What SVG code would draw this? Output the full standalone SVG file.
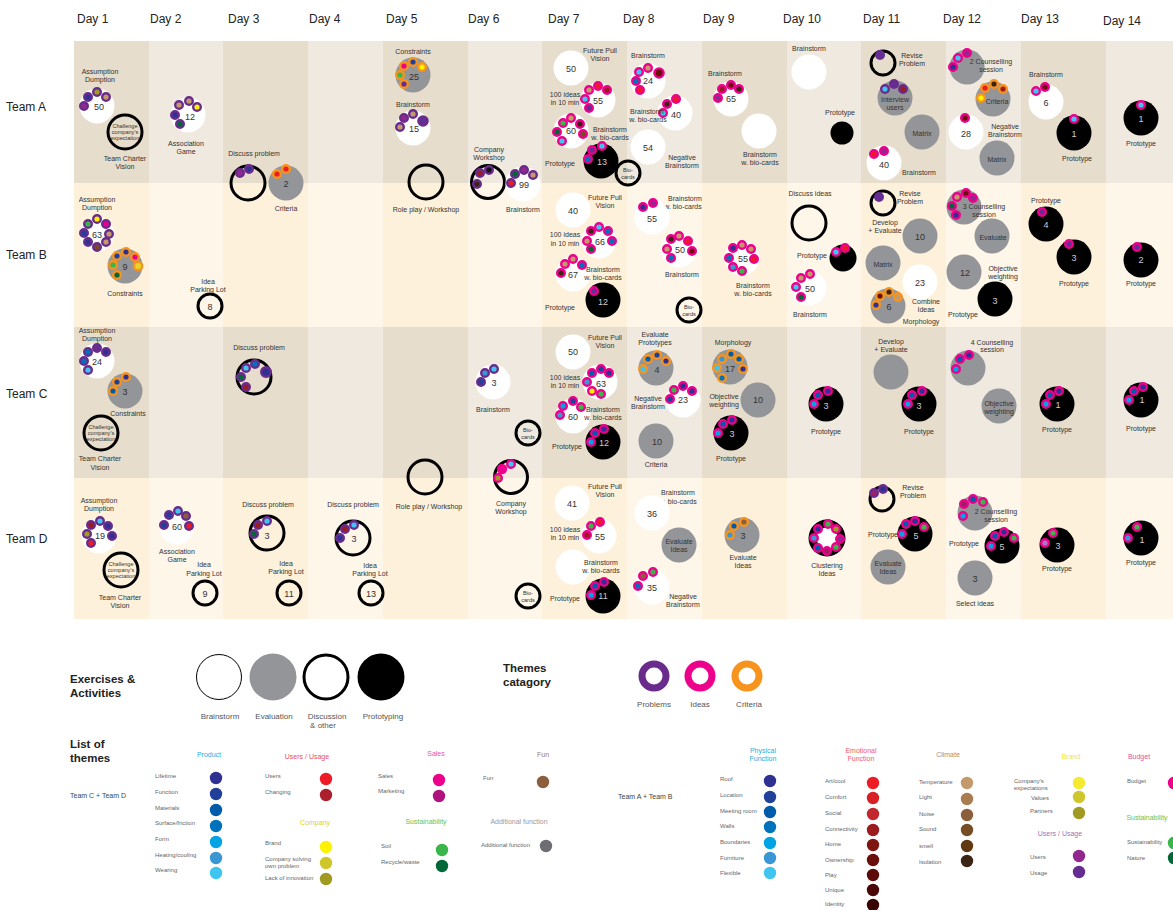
<svg xmlns="http://www.w3.org/2000/svg" width="1173" height="910" viewBox="0 0 1173 910">
<style>
text{font-family:"Liberation Sans",Arial,sans-serif}
.hd{font-size:12px;fill:#222}
.l{font-size:7px;fill:#333;text-anchor:middle;dominant-baseline:central}
.n{font-size:9px;fill:#333;text-anchor:middle;dominant-baseline:central}
.nw{font-size:9px;fill:#ccc;text-anchor:middle;dominant-baseline:central}
.t{font-size:5.6px;fill:#333;text-anchor:middle;dominant-baseline:central}
.bs{fill:#fff}
.ev{fill:#939598}
.di{fill:none;stroke:#000;stroke-width:3}
.pt{fill:#000}
.p{stroke:#6a2c8c;stroke-width:2.4}
.m{stroke:#ec008c;stroke-width:2.4}
.o{stroke:#f7941d;stroke-width:2.4}
.lh{font-size:11.5px;font-weight:bold;fill:#222}
.lk{font-size:8px;fill:#555;text-anchor:middle}
.gt{font-size:7px;text-anchor:middle}
.it{font-size:6px;fill:#666}
.tt{font-size:7px;fill:#444}
</style>
<rect width="1173" height="910" fill="#fff"/>
<g id="grid">
<rect x="74" y="41" width="1099" height="142" fill="#e7ddcc"/>
<rect x="74" y="183" width="1099" height="144" fill="#fdf1dc"/>
<rect x="74" y="327" width="1099" height="151" fill="#e7ddcc"/>
<rect x="74" y="478" width="1099" height="141" fill="#fdf1dc"/>
<g fill="#fff" fill-opacity="0.37">
<rect x="149" y="41" width="74" height="578"/>
<rect x="308" y="41" width="75" height="578"/>
<rect x="468" y="41" width="74" height="578"/>
<rect x="627" y="41" width="75" height="578"/>
<rect x="787" y="41" width="74" height="578"/>
<rect x="946" y="41" width="75" height="578"/>
<rect x="1106" y="41" width="67" height="578"/>
</g>
</g>
<g id="headers" class="hd">
<text x="77" y="23">Day 1</text><text x="150" y="23">Day 2</text><text x="228" y="23">Day 3</text><text x="309" y="23">Day 4</text><text x="386" y="23">Day 5</text><text x="468" y="23">Day 6</text><text x="548" y="23">Day 7</text><text x="623" y="23">Day 8</text><text x="703" y="23">Day 9</text><text x="783" y="23">Day 10</text><text x="863" y="23">Day 11</text><text x="943" y="23">Day 12</text><text x="1021" y="23">Day 13</text><text x="1103" y="25">Day 14</text>
<text x="6" y="111">Team A</text><text x="6" y="259">Team B</text><text x="6" y="398">Team C</text><text x="6" y="543">Team D</text>
</g>
<g id="connectors"/>
<!-- TEAM A -->
<g id="a1">
<text class="l" x="100" y="71">Assumption</text><text class="l" x="100" y="79">Dumption</text>
<circle class="bs" cx="97" cy="106" r="17.5"/><text class="n" x="99" y="107">50</text>
<circle class="p" cx="84" cy="106" r="3.8" fill="#92278f"/><circle class="p" cx="88" cy="97" r="3.8" fill="#2e3192"/><circle class="p" cx="97" cy="92" r="3.8" fill="#a09a22"/><circle class="p" cx="106" cy="97" r="3.8" fill="#c49a6c"/>
<circle class="di" cx="125" cy="132" r="17"/><text class="t" x="125" y="126">Challenge</text><text class="t" x="125" y="132">company's</text><text class="t" x="125" y="138">expectation</text>
<text class="l" x="125" y="158">Team Charter</text><text class="l" x="125" y="166">Vision</text>
</g>
<g id="a2">
<circle class="bs" cx="188" cy="115" r="17.5"/><text class="n" x="190" y="117">12</text>
<circle class="p" cx="179" cy="105" r="3.8" fill="#c49a6c"/><circle class="p" cx="189" cy="101" r="3.8" fill="#c49a6c"/><circle class="p" cx="197" cy="107" r="3.8" fill="#fff200"/><circle class="p" cx="175" cy="115" r="3.8" fill="#2e3192"/><circle class="p" cx="180" cy="124" r="3.8" fill="#006837"/>
<text class="l" x="186" y="143">Association</text><text class="l" x="186" y="151">Game</text>
</g>
<g id="a3">
<text class="l" x="254" y="153">Discuss problem</text>
<circle class="di" cx="248" cy="183" r="17"/>
<circle class="p" cx="240" cy="173" r="3.8" fill="#92278f"/><circle class="p" cx="249" cy="169" r="3.8" fill="#2e3192"/>
<circle class="ev" cx="286" cy="183" r="17.5"/><text class="n" x="286" y="184">2</text>
<circle class="o" cx="277" cy="174" r="3.8" fill="#ed1c24"/><circle class="o" cx="286" cy="169" r="3.8" fill="#ed1c24"/>
<text class="l" x="286" y="208">Criteria</text>
</g>
<g id="a5">
<text class="l" x="413" y="51">Constraints</text>
<circle class="ev" cx="413" cy="75" r="17.5"/><text class="n" x="414" y="77">25</text>
<circle class="o" cx="404" cy="66" r="3.8" fill="#ec008c"/><circle class="o" cx="413" cy="62" r="3.8" fill="#21409a"/><circle class="o" cx="422" cy="67" r="3.8" fill="#fff200"/><circle class="o" cx="400" cy="75" r="3.8" fill="#39b54a"/><circle class="o" cx="404" cy="84" r="3.8" fill="#662d91"/>
<text class="l" x="413" y="104">Brainstorm</text>
<circle class="bs" cx="413" cy="128" r="17.5"/><text class="n" x="414" y="129">15</text>
<circle class="p" cx="404" cy="118" r="3.8" fill="#92278f"/><circle class="p" cx="413" cy="114" r="3.8" fill="#c49a6c"/><circle class="p" cx="423" cy="121" r="4.6" fill="#662d91"/><circle class="p" cx="400" cy="127" r="3.8" fill="#c49a6c"/>
</g>
<g id="ab5">
<circle class="di" cx="426" cy="182" r="17"/><text class="l" x="426" y="209">Role play / Workshop</text>
</g>
<g id="a6">
<text class="l" x="489" y="149">Company</text><text class="l" x="489" y="157">Workshop</text>
<circle class="di" cx="488" cy="182" r="16.5"/>
<circle class="p" cx="480" cy="173" r="3.8" fill="#9b1b1e"/><circle class="p" cx="489" cy="170" r="3.8" fill="#111"/><circle class="p" cx="477" cy="184" r="3.8" fill="#3c2415"/>
<circle class="bs" cx="523" cy="184" r="17.5"/><text class="n" x="524" y="185">99</text>
<circle class="p" cx="515" cy="174" r="3.8" fill="#006837"/><circle class="p" cx="524" cy="170" r="3.8" fill="#92278f"/><circle class="p" cx="533" cy="175" r="3.8" fill="#c49a6c"/><circle class="p" cx="511" cy="183" r="3.8" fill="#ed1c24"/>
<text class="l" x="523" y="209">Brainstorm</text>
</g>
<g id="a7">
<text class="l" x="600" y="50">Future Pull</text><text class="l" x="600" y="58">Vision</text>
<circle class="bs" cx="571" cy="68" r="17.5"/><text class="n" x="571" y="69">50</text>
<text class="l" x="565" y="94">100 ideas</text><text class="l" x="565" y="102">in 10 min</text>
<circle class="bs" cx="598" cy="100" r="17.5"/><text class="n" x="598" y="101">55</text>
<circle class="m" cx="589" cy="90" r="3.8" fill="#c49a6c"/><circle class="m" cx="598" cy="86" r="3.8" fill="#ed1c24"/><circle class="m" cx="607" cy="90" r="3.8" fill="#9b1b1e"/><circle class="m" cx="585" cy="99" r="3.8" fill="#3fc5f0"/><circle class="m" cx="589" cy="108" r="3.8" fill="#662d91"/>
<circle class="bs" cx="571" cy="131" r="17.5"/><text class="n" x="571" y="131">60</text>
<circle class="m" cx="563" cy="123" r="3.8" fill="#39b54a"/><circle class="m" cx="571" cy="118" r="3.8" fill="#c49a6c"/><circle class="m" cx="580" cy="124" r="3.8" fill="#3c2415"/><circle class="m" cx="583" cy="134" r="3.8" fill="#754c24"/><circle class="m" cx="557" cy="132" r="3.8" fill="#006837"/><circle class="m" cx="562" cy="141" r="3.8" fill="#3fc5f0"/>
<text class="l" x="610" y="129">Brainstorm</text><text class="l" x="610" y="137">w. bio-cards</text>
<circle class="pt" cx="601" cy="161" r="17.5"/><text class="nw" x="602" y="162">13</text>
<circle class="m" cx="592" cy="150" r="3.8" fill="#662d91"/><circle class="m" cx="602" cy="146" r="3.8" fill="#3fc5f0"/><circle class="m" cx="588" cy="159" r="3.8" fill="#0072bc"/>
<text class="l" x="560" y="163">Prototype</text>
<circle class="di" cx="628" cy="173" r="12"/><text class="t" x="628" y="170">Bio-</text><text class="t" x="628" y="177">cards</text>
</g>
<g id="a8">
<text class="l" x="648" y="55">Brainstorm</text>
<circle class="bs" cx="648" cy="81" r="17.5"/><text class="n" x="648" y="81">24</text>
<circle class="m" cx="639" cy="72" r="3.8" fill="#3fc5f0"/><circle class="m" cx="648" cy="68" r="3.8" fill="#c49a6c"/><circle class="m" cx="659" cy="73" r="4.6" fill="#6a0f0b"/><circle class="m" cx="636" cy="81" r="3.8" fill="#0072bc"/><circle class="m" cx="640" cy="90" r="3.8" fill="#ed1c24"/>
<circle class="bs" cx="675" cy="113" r="17.5"/><text class="n" x="676" y="115">40</text>
<circle class="m" cx="667" cy="104" r="3.8" fill="#3c2415"/><circle class="m" cx="676" cy="99" r="3.8" fill="#ed1c24"/><circle class="m" cx="663" cy="113" r="3.8" fill="#3fc5f0"/>
<text class="l" x="647" y="111">Brainstorm</text><text class="l" x="648" y="119">w. bio-cards</text>
<circle class="bs" cx="648" cy="147" r="17.5"/><text class="n" x="648" y="148">54</text>
<text class="l" x="682" y="157">Negative</text><text class="l" x="682" y="165">Brainstorm</text>
</g>
<g id="a9">
<text class="l" x="725" y="73">Brainstorm</text>
<circle class="bs" cx="731" cy="99" r="17.5"/><text class="n" x="731" y="99">65</text>
<circle class="m" cx="722" cy="89" r="3.8" fill="#9b1b1e"/><circle class="m" cx="731" cy="85" r="3.8" fill="#6a0f0b"/><circle class="m" cx="739" cy="89" r="3.8" fill="#3c2415"/><circle class="m" cx="718" cy="98" r="3.8" fill="#92278f"/>
<circle class="bs" cx="759" cy="131" r="17.5"/>
<text class="l" x="760" y="154">Brainstorm</text><text class="l" x="760" y="162">w. bio-cards</text>
</g>
<g id="a10">
<text class="l" x="809" y="48">Brainstorm</text>
<circle class="bs" cx="809" cy="72" r="17.5"/>
<text class="l" x="840" y="112">Prototype</text>
<circle class="pt" cx="842" cy="133" r="11.5"/>
</g>
<g id="a11">
<circle class="di" cx="883" cy="63" r="12"/><circle cx="880" cy="55" r="5" fill="#662d91"/>
<text class="l" x="912" y="55">Revise</text><text class="l" x="912" y="63">Problem</text>
<circle class="ev" cx="895" cy="98" r="17.5"/><text class="l" x="895" y="99">Interview</text><text class="l" x="895" y="107">users</text>
<circle class="p" cx="885" cy="89" r="3.8" fill="#3fc5f0"/><circle class="p" cx="894" cy="84" r="3.8" fill="#662d91"/><circle class="p" cx="903" cy="89" r="3.8" fill="#9b1b1e"/>
<circle class="ev" cx="922" cy="132" r="17.5"/><text class="l" x="922" y="133">Matrix</text>
<circle class="bs" cx="884" cy="163" r="17.5"/><text class="n" x="884" y="165">40</text>
<circle class="m" cx="874" cy="154" r="3.8" fill="#ed1c24"/><circle class="m" cx="884" cy="151" r="3.8" fill="#92278f"/>
<text class="l" x="919" y="172">Brainstorm</text>
</g>
<g id="a12">
<circle class="ev" cx="967" cy="67" r="17.5"/>
<circle class="m" cx="958" cy="58" r="3.8" fill="#3fc5f0"/><circle class="m" cx="967" cy="53" r="3.8" fill="#92278f"/><circle class="m" cx="953" cy="67" r="3.8" fill="#2e3192"/>
<text class="l" x="991" y="61">2 Counselling</text><text class="l" x="991" y="69">session</text>
<circle class="ev" cx="993" cy="99" r="17.5"/><text class="l" x="997" y="101">Criteria</text>
<circle class="o" cx="985" cy="88" r="3.8" fill="#ed1c24"/><circle class="o" cx="994" cy="84" r="3.8" fill="#3c2415"/><circle class="o" cx="1003" cy="89" r="3.8" fill="#9b1b1e"/><circle class="o" cx="981" cy="98" r="3.8" fill="#fff200"/>
<circle class="bs" cx="966" cy="132" r="17.5"/><text class="n" x="966" y="134">28</text>
<circle class="m" cx="965" cy="118" r="3.8" fill="#6a0f0b"/>
<text class="l" x="1005" y="126">Negative</text><text class="l" x="1005" y="134">Brainstorm</text>
<circle class="ev" cx="997" cy="158" r="17.5"/><text class="l" x="997" y="159">Matrix</text>
</g>
<g id="a13">
<text class="l" x="1046" y="74">Brainstorm</text>
<circle class="bs" cx="1046" cy="102" r="17.5"/><text class="n" x="1046" y="103">6</text>
<circle class="m" cx="1036" cy="91" r="3.8" fill="#3fc5f0"/><circle class="m" cx="1045" cy="87" r="3.8" fill="#6a0f0b"/>
<circle class="pt" cx="1074" cy="133" r="17.5"/><text class="nw" x="1074" y="134">1</text>
<circle class="m" cx="1074" cy="119" r="3.8" fill="#3fc5f0"/>
<text class="l" x="1077" y="158">Prototype</text>
</g>
<g id="a14">
<circle class="pt" cx="1141" cy="118" r="17.5"/><text class="nw" x="1141" y="119">1</text>
<circle class="m" cx="1141" cy="105" r="3.8" fill="#3fc5f0"/>
<text class="l" x="1141" y="143">Prototype</text>
</g>
<!-- TEAM B -->
<g id="b1">
<text class="l" x="97" y="199">Assumption</text><text class="l" x="97" y="207">Dumption</text>
<circle class="bs" cx="97" cy="234" r="17.5"/><text class="n" x="97" y="235">63</text>
<circle class="p" cx="97" cy="219" r="3.8" fill="#fff200"/><circle class="p" cx="106" cy="224" r="3.8" fill="#ec008c"/><circle class="p" cx="109" cy="234" r="3.8" fill="#c49a6c"/><circle class="p" cx="106" cy="242" r="3.8" fill="#c49a6c"/><circle class="p" cx="97" cy="247" r="3.8" fill="#754c24"/><circle class="p" cx="88" cy="242" r="3.8" fill="#2e3192"/><circle class="p" cx="84" cy="233" r="3.8" fill="#21409a"/><circle class="p" cx="88" cy="224" r="3.8" fill="#39b54a"/>
<circle class="ev" cx="125" cy="266" r="17.5"/><text class="n" x="125" y="267">9</text>
<circle class="o" cx="117" cy="256" r="3.8" fill="#21409a"/><circle class="o" cx="126" cy="252" r="3.8" fill="#2e3192"/><circle class="o" cx="135" cy="257" r="3.8" fill="#ec008c"/><circle class="o" cx="138" cy="266" r="4.2" fill="#e8d42a"/><circle class="o" cx="113" cy="265" r="3.8" fill="#39b54a"/><circle class="o" cx="117" cy="275" r="3.8" fill="#006837"/>
<text class="l" x="125" y="293">Constraints</text>
</g>
<g id="b2">
<text class="l" x="208" y="281">Idea</text><text class="l" x="208" y="289">Parking Lot</text>
<circle class="di" cx="210" cy="306" r="12"/><text class="n" x="210" y="307">8</text>
</g>
<g id="b7">
<text class="l" x="605" y="197">Future Pull</text><text class="l" x="605" y="205">Vision</text>
<circle class="bs" cx="573" cy="210" r="17.5"/><text class="n" x="573" y="211">40</text>
<text class="l" x="565" y="234">100 ideas</text><text class="l" x="565" y="243">in 10 min</text>
<circle class="bs" cx="599" cy="241" r="17.5"/><text class="n" x="600" y="242">66</text>
<circle class="m" cx="591" cy="231" r="3.8" fill="#3c2415"/><circle class="m" cx="599" cy="227" r="3.8" fill="#3fc5f0"/><circle class="m" cx="608" cy="231" r="3.8" fill="#0072bc"/><circle class="m" cx="612" cy="241" r="3.8" fill="#0072bc"/><circle class="m" cx="587" cy="241" r="3.8" fill="#c49a6c"/><circle class="m" cx="591" cy="249" r="3.8" fill="#006837"/>
<circle class="bs" cx="573" cy="274" r="17.5"/><text class="n" x="573" y="275">67</text>
<circle class="m" cx="565" cy="264" r="3.8" fill="#c49a6c"/><circle class="m" cx="573" cy="259" r="3.8" fill="#c49a6c"/><circle class="m" cx="582" cy="265" r="3.8" fill="#0072bc"/><circle class="m" cx="561" cy="273" r="3.8" fill="#3c2415"/>
<text class="l" x="603" y="269">Brainstorm</text><text class="l" x="603" y="277">w. bio-cards</text>
<circle class="pt" cx="603" cy="300" r="17.5"/><text class="nw" x="603" y="302">12</text>
<circle class="m" cx="594" cy="291" r="3.8" fill="#662d91"/>
<text class="l" x="560" y="307">Prototype</text>
</g>
<g id="b8">
<text class="l" x="685" y="198">Brainstorm</text><text class="l" x="683" y="206">w. bio-cards</text>
<circle class="bs" cx="652" cy="217" r="17.5"/><text class="n" x="652" y="219">55</text>
<circle class="m" cx="643" cy="207" r="3.8" fill="#2e3192"/><circle class="m" cx="653" cy="203" r="3.8" fill="#92278f"/>
<circle class="bs" cx="679" cy="250" r="17.5"/><text class="n" x="680" y="250">50</text>
<circle class="m" cx="671" cy="239" r="3.8" fill="#3c2415"/><circle class="m" cx="679" cy="236" r="3.8" fill="#c49a6c"/><circle class="m" cx="688" cy="241" r="3.8" fill="#ed1c24"/><circle class="m" cx="692" cy="251" r="3.8" fill="#6a0f0b"/><circle class="m" cx="667" cy="249" r="3.8" fill="#c49a6c"/><circle class="m" cx="671" cy="258" r="3.8" fill="#0072bc"/>
<text class="l" x="682" y="274">Brainstorm</text>
<circle class="di" cx="689" cy="310" r="12"/><text class="t" x="689" y="307">Bio-</text><text class="t" x="689" y="314">cards</text>
</g>
<g id="b9">
<circle class="bs" cx="742" cy="258" r="17.5"/><text class="n" x="743" y="259">55</text>
<circle class="m" cx="733" cy="248" r="3.8" fill="#2e3192"/><circle class="m" cx="742" cy="245" r="3.8" fill="#c49a6c"/><circle class="m" cx="751" cy="249" r="3.8" fill="#c49a6c"/><circle class="m" cx="754" cy="259" r="3.8" fill="#ed1c24"/><circle class="m" cx="729" cy="258" r="3.8" fill="#0072bc"/><circle class="m" cx="733" cy="267" r="3.8" fill="#3b97d3"/><circle class="m" cx="742" cy="271" r="3.8" fill="#39b54a"/>
<text class="l" x="753" y="285">Brainstorm</text><text class="l" x="753" y="293">w. bio-cards</text>
</g>
<g id="b10">
<text class="l" x="810" y="193">Discuss ideas</text>
<circle class="di" cx="809" cy="223" r="17"/>
<text class="l" x="812" y="255">Prototype</text>
<circle class="pt" cx="843" cy="258" r="13.5"/>
<circle class="m" cx="836" cy="252" r="3.8" fill="#3fc5f0"/><circle class="m" cx="845" cy="248" r="3.8" fill="#ed1c24"/>
<circle class="bs" cx="809" cy="288" r="17.5"/><text class="n" x="810" y="289">50</text>
<circle class="m" cx="801" cy="278" r="3.8" fill="#c49a6c"/><circle class="m" cx="810" cy="274" r="3.8" fill="#c49a6c"/><circle class="m" cx="796" cy="287" r="3.8" fill="#3fc5f0"/><circle class="m" cx="801" cy="297" r="3.8" fill="#006837"/>
<text class="l" x="810" y="314">Brainstorm</text>
</g>
<g id="b11">
<circle class="di" cx="883" cy="203" r="12"/><circle cx="879" cy="197" r="5" fill="#662d91"/>
<text class="l" x="910" y="193">Revise</text><text class="l" x="910" y="201">Problem</text>
<text class="l" x="885" y="222">Develop</text><text class="l" x="885" y="230">+ Evaluate</text>
<circle class="ev" cx="920" cy="236" r="17.5"/><text class="n" x="920" y="237">10</text>
<circle class="ev" cx="883" cy="263" r="17.5"/><text class="l" x="883" y="264">Matrix</text>
<circle class="bs" cx="920" cy="282" r="17.5"/><text class="n" x="920" y="283">23</text>
<circle class="ev" cx="888" cy="306" r="17.5"/><text class="n" x="889" y="307">6</text>
<circle class="o" cx="880" cy="296" r="3.8" fill="#6a0f0b"/><circle class="o" cx="889" cy="292" r="3.8" fill="#3c2415"/><circle class="o" cx="898" cy="297" r="3.8" fill="#c49a6c"/><circle class="o" cx="876" cy="305" r="3.8" fill="#2e3192"/>
<text class="l" x="926" y="301">Combine</text><text class="l" x="926" y="309">Ideas</text>
<text class="l" x="921" y="321">Morphology</text>
</g>
<g id="b12">
<circle class="ev" cx="964" cy="207" r="17.5"/>
<circle class="m" cx="957" cy="197" r="3.8" fill="#c49a6c"/><circle class="m" cx="966" cy="193" r="3.8" fill="#6a0f0b"/><circle class="m" cx="973" cy="198" r="3.8" fill="#92278f"/><circle class="m" cx="952" cy="206" r="3.8" fill="#006837"/><circle class="m" cx="956" cy="215" r="3.8" fill="#2e3192"/>
<text class="l" x="984" y="206">3 Counselling</text><text class="l" x="984" y="214">session</text>
<circle class="ev" cx="992" cy="236" r="17.5"/><text class="l" x="993" y="237">Evaluate</text>
<circle class="ev" cx="964" cy="272" r="17.5"/><text class="n" x="965" y="273">12</text>
<text class="l" x="1003" y="268">Objective</text><text class="l" x="1003" y="276">weighting</text>
<circle class="pt" cx="995" cy="299" r="17.5"/><text class="nw" x="995" y="301">3</text>
<text class="l" x="963" y="314">Prototype</text>
</g>
<g id="b13">
<text class="l" x="1046" y="200">Prototype</text>
<circle class="pt" cx="1046" cy="224" r="17.5"/><text class="nw" x="1046" y="225">4</text>
<circle class="m" cx="1042" cy="212" r="3.8" fill="#662d91"/>
<circle class="pt" cx="1074" cy="257" r="17.5"/><text class="nw" x="1074" y="258">3</text>
<circle class="m" cx="1069" cy="244" r="3.8" fill="#662d91"/>
<text class="l" x="1074" y="283">Prototype</text>
</g>
<g id="b14">
<circle class="pt" cx="1141" cy="260" r="17.5"/><text class="nw" x="1141" y="260">2</text>
<circle class="m" cx="1137" cy="247" r="3.8" fill="#662d91"/>
<text class="l" x="1141" y="283">Prototype</text>
</g>
<!-- TEAM C -->
<g id="c1">
<text class="l" x="97" y="330">Assumption</text><text class="l" x="97" y="338">Dumption</text>
<circle class="bs" cx="97" cy="361" r="17.5"/><text class="n" x="97" y="362">24</text>
<circle class="p" cx="88" cy="352" r="3.8" fill="#0072bc"/><circle class="p" cx="97" cy="348" r="3.8" fill="#662d91"/><circle class="p" cx="106" cy="352" r="3.8" fill="#2e3192"/><circle class="p" cx="84" cy="361" r="3.8" fill="#0072bc"/><circle class="p" cx="88" cy="370" r="3.8" fill="#3fc5f0"/>
<circle class="ev" cx="125" cy="391" r="17.5"/><text class="n" x="125" y="392">3</text>
<circle class="o" cx="117" cy="382" r="3.8" fill="#21409a"/><circle class="o" cx="126" cy="377" r="3.8" fill="#2e3192"/><circle class="o" cx="113" cy="391" r="3.8" fill="#005baa"/>
<text class="l" x="128" y="413">Constraints</text>
<circle class="di" cx="101" cy="433" r="17"/><text class="t" x="101" y="427">Challenge</text><text class="t" x="101" y="433">company's</text><text class="t" x="101" y="439">expectation</text>
<text class="l" x="100" y="458">Team Charter</text><text class="l" x="100" y="467">Vision</text>
</g>
<g id="c3">
<text class="l" x="259" y="347">Discuss problem</text>
<circle class="di" cx="254" cy="377" r="17"/>
<circle class="p" cx="246" cy="368" r="3.8" fill="#3fc5f0"/><circle class="p" cx="255" cy="364" r="3.8" fill="#0072bc"/><circle class="p" cx="266" cy="372" r="4.8" fill="#2e3192"/><circle class="p" cx="241" cy="377" r="3.8" fill="#006837"/><circle class="p" cx="246" cy="387" r="3.8" fill="#9b1b1e"/>
</g>
<g id="cd5">
<circle class="di" cx="425" cy="477" r="17"/><text class="l" x="429" y="506">Role play / Workshop</text>
</g>
<g id="c6">
<circle class="bs" cx="493" cy="382" r="17.5"/><text class="n" x="494" y="383">3</text>
<circle class="p" cx="485" cy="373" r="3.8" fill="#3b97d3"/><circle class="p" cx="494" cy="369" r="3.8" fill="#3fc5f0"/><circle class="p" cx="481" cy="382" r="3.8" fill="#21409a"/>
<text class="l" x="493" y="409">Brainstorm</text>
<circle class="di" cx="528" cy="433" r="12"/><text class="t" x="528" y="430">Bio-</text><text class="t" x="528" y="437">cards</text>
</g>
<g id="cd6">
<circle class="di" cx="511" cy="477" r="16.5"/>
<circle class="m" cx="511" cy="464" r="3.8" fill="#3fc5f0"/><circle cx="502" cy="469" r="5.2" fill="#ec008c"/><circle class="m" cx="498" cy="478" r="3.8" fill="#a09a22"/>
<text class="l" x="511" y="503">Company</text><text class="l" x="511" y="511">Workshop</text>
</g>
<g id="c7">
<text class="l" x="605" y="337">Future Pull</text><text class="l" x="605" y="345">Vision</text>
<circle class="bs" cx="573" cy="352" r="17.5"/><text class="n" x="573" y="352">50</text>
<text class="l" x="565" y="377">100 ideas</text><text class="l" x="565" y="385">in 10 min</text>
<circle class="bs" cx="600" cy="382" r="17.5"/><text class="n" x="601" y="384">63</text>
<circle class="m" cx="592" cy="373" r="3.8" fill="#005baa"/><circle class="m" cx="601" cy="369" r="3.8" fill="#21409a"/><circle class="m" cx="609" cy="373" r="3.8" fill="#2e3192"/><circle class="m" cx="587" cy="382" r="3.8" fill="#3b97d3"/><circle class="m" cx="592" cy="391" r="3.8" fill="#fff200"/><circle class="m" cx="601" cy="394" r="3.8" fill="#39b54a"/>
<circle class="bs" cx="573" cy="416" r="17.5"/><text class="n" x="573" y="417">60</text>
<circle class="m" cx="563" cy="406" r="3.8" fill="#00a4e4"/><circle class="m" cx="573" cy="401" r="3.8" fill="#21409a"/><circle class="m" cx="581" cy="407" r="3.8" fill="#39b54a"/><circle class="m" cx="560" cy="415" r="3.8" fill="#3b97d3"/>
<text class="l" x="603" y="409">Brainstorm</text><text class="l" x="603" y="417">w. bio-cards</text>
<circle class="pt" cx="603" cy="442" r="17.5"/><text class="nw" x="604" y="443">12</text>
<circle class="m" cx="595" cy="433" r="3.8" fill="#005baa"/><circle class="m" cx="604" cy="429" r="3.8" fill="#2e3192"/><circle class="m" cx="591" cy="442" r="3.8" fill="#00a4e4"/>
<text class="l" x="567" y="446">Prototype</text>
</g>
<g id="c8">
<text class="l" x="655" y="334">Evaluate</text><text class="l" x="655" y="342">Prototypes</text>
<circle class="ev" cx="656" cy="368" r="17.5"/><text class="n" x="657" y="370">4</text>
<circle class="o" cx="648" cy="359" r="3.8" fill="#005baa"/><circle class="o" cx="657" cy="355" r="3.8" fill="#21409a"/><circle class="o" cx="666" cy="361" r="3.8" fill="#2e3192"/><circle class="o" cx="643" cy="369" r="3.8" fill="#3fc5f0"/>
<circle class="bs" cx="683" cy="400" r="17.5"/><text class="n" x="683" y="400">23</text>
<circle class="m" cx="674" cy="390" r="3.8" fill="#39b54a"/><circle class="m" cx="683" cy="386" r="3.8" fill="#2e3192"/><circle class="m" cx="692" cy="391" r="3.8" fill="#2e3192"/><circle class="m" cx="670" cy="399" r="3.8" fill="#21409a"/>
<text class="l" x="648" y="398">Negative</text><text class="l" x="648" y="406">Brainstorm</text>
<circle class="ev" cx="656" cy="441" r="17.5"/><text class="n" x="657" y="442">10</text>
<text class="l" x="656" y="464">Criteria</text>
</g>
<g id="c9">
<text class="l" x="733" y="342">Morphology</text>
<circle class="ev" cx="730" cy="367" r="17.5"/><text class="n" x="730" y="369">17</text>
<circle class="o" cx="722" cy="359" r="3.8" fill="#3b97d3"/><circle class="o" cx="731" cy="354" r="3.8" fill="#005baa"/><circle class="o" cx="739" cy="359" r="3.8" fill="#005baa"/><circle class="o" cx="717" cy="368" r="3.8" fill="#3fc5f0"/><circle class="o" cx="743" cy="369" r="3.8" fill="#2e3192"/><circle class="o" cx="722" cy="378" r="3.8" fill="#0072bc"/>
<circle class="ev" cx="758" cy="400" r="17.5"/><text class="n" x="758" y="400">10</text>
<text class="l" x="724" y="396">Objective</text><text class="l" x="724" y="404">weighting</text>
<circle class="pt" cx="731" cy="433" r="17.5"/><text class="nw" x="732" y="434">3</text>
<circle class="m" cx="723" cy="424" r="3.8" fill="#005baa"/><circle class="m" cx="732" cy="420" r="3.8" fill="#2e3192"/><circle class="m" cx="718" cy="433" r="3.8" fill="#00a4e4"/>
<text class="l" x="731" y="458">Prototype</text>
</g>
<g id="c10">
<circle class="pt" cx="826" cy="404" r="17.5"/><text class="nw" x="826" y="406">3</text>
<circle class="m" cx="818" cy="395" r="3.8" fill="#005baa"/><circle class="m" cx="828" cy="391" r="3.8" fill="#2e3192"/><circle class="m" cx="814" cy="404" r="3.8" fill="#00a4e4"/>
<text class="l" x="826" y="431">Prototype</text>
</g>
<g id="c11">
<text class="l" x="891" y="341">Develop</text><text class="l" x="891" y="349">+ Evaluate</text>
<circle class="ev" cx="891" cy="372" r="17.5"/>
<circle class="pt" cx="919" cy="404" r="17.5"/><text class="nw" x="919" y="406">3</text>
<circle class="m" cx="912" cy="395" r="3.8" fill="#005baa"/><circle class="m" cx="922" cy="391" r="3.8" fill="#2e3192"/><circle class="m" cx="908" cy="404" r="3.8" fill="#00a4e4"/>
<text class="l" x="919" y="431">Prototype</text>
</g>
<g id="c12">
<text class="l" x="992" y="342">4 Counselling</text><text class="l" x="992" y="349">session</text>
<circle class="ev" cx="968" cy="368" r="17.5"/>
<circle class="m" cx="960" cy="359" r="3.8" fill="#005baa"/><circle class="m" cx="969" cy="355" r="3.8" fill="#2e3192"/><circle class="m" cx="956" cy="369" r="3.8" fill="#00a4e4"/>
<circle class="ev" cx="999" cy="406" r="17.5"/><text class="l" x="999" y="403">Objective</text><text class="l" x="999" y="411">weighting</text>
</g>
<g id="c13">
<circle class="pt" cx="1057" cy="404" r="17.5"/><text class="nw" x="1058" y="405">1</text>
<circle class="m" cx="1050" cy="395" r="3.8" fill="#005baa"/><circle class="m" cx="1059" cy="391" r="3.8" fill="#2e3192"/><circle class="m" cx="1046" cy="404" r="3.8" fill="#00a4e4"/>
<text class="l" x="1057" y="429">Prototype</text>
</g>
<g id="c14">
<circle class="pt" cx="1141" cy="400" r="17.5"/><text class="nw" x="1142" y="400">1</text>
<circle class="m" cx="1134" cy="391" r="3.8" fill="#005baa"/><circle class="m" cx="1143" cy="387" r="3.8" fill="#2e3192"/><circle class="m" cx="1129" cy="400" r="3.8" fill="#00a4e4"/>
<text class="l" x="1141" y="428">Prototype</text>
</g>
<!-- TEAM D -->
<g id="d1">
<text class="l" x="99" y="500">Assumption</text><text class="l" x="99" y="508">Dumption</text>
<circle class="bs" cx="99" cy="536" r="17.5"/><text class="n" x="100" y="536">19</text>
<circle class="p" cx="91" cy="525" r="3.8" fill="#9b1b1e"/><circle class="p" cx="100" cy="521" r="3.8" fill="#3fc5f0"/><circle class="p" cx="108" cy="526" r="3.8" fill="#2e3192"/><circle class="p" cx="112" cy="536" r="3.8" fill="#2e3192"/><circle class="p" cx="87" cy="534" r="3.8" fill="#a09a22"/><circle class="p" cx="91" cy="543" r="3.8" fill="#ed1c24"/>
<circle class="di" cx="121" cy="570" r="17"/><text class="t" x="121" y="564">Challenge</text><text class="t" x="121" y="570">company's</text><text class="t" x="121" y="576">expectation</text>
<text class="l" x="120" y="597">Team Charter</text><text class="l" x="120" y="605">Vision</text>
</g>
<g id="d2">
<circle class="bs" cx="177" cy="527" r="17.5"/><text class="n" x="177" y="527">60</text>
<circle class="p" cx="169" cy="515" r="3.8" fill="#21409a"/><circle class="p" cx="178" cy="511" r="3.8" fill="#3fc5f0"/><circle class="p" cx="186" cy="516" r="3.8" fill="#8b5e3c"/><circle class="p" cx="164" cy="525" r="3.8" fill="#21409a"/><circle class="p" cx="189" cy="526" r="3.8" fill="#ed1c24"/>
<text class="l" x="177" y="551">Association</text><text class="l" x="177" y="559">Game</text>
<text class="l" x="204" y="564">Idea</text><text class="l" x="204" y="573">Parking Lot</text>
<circle class="di" cx="205" cy="593" r="12"/><text class="n" x="205" y="594">9</text>
</g>
<g id="d3">
<text class="l" x="268" y="504">Discuss problem</text>
<circle class="di" cx="267" cy="533" r="17"/><text class="n" x="267" y="536">3</text>
<circle class="p" cx="258" cy="525" r="3.8" fill="#9b1b1e"/><circle class="p" cx="267" cy="521" r="3.8" fill="#3fc5f0"/><circle class="p" cx="254" cy="534" r="3.8" fill="#006837"/>
<text class="l" x="286" y="563">Idea</text><text class="l" x="286" y="571">Parking Lot</text>
<circle class="di" cx="289" cy="593" r="12"/><text class="n" x="289" y="594">11</text>
</g>
<g id="d4">
<text class="l" x="353" y="504">Discuss problem</text>
<circle class="di" cx="353" cy="538" r="17"/><text class="n" x="354" y="539">3</text>
<circle class="p" cx="345" cy="529" r="3.8" fill="#9b1b1e"/><circle class="p" cx="354" cy="525" r="3.8" fill="#3fc5f0"/><circle class="p" cx="340" cy="538" r="3.8" fill="#2e3192"/>
<text class="l" x="370" y="565">Idea</text><text class="l" x="370" y="573">Parking Lot</text>
<circle class="di" cx="371" cy="593" r="12"/><text class="n" x="371" y="594">13</text>
</g>
<g id="d6">
<circle class="di" cx="528" cy="596" r="12"/><text class="t" x="528" y="593">Bio-</text><text class="t" x="528" y="600">cards</text>
</g>
<g id="d7">
<text class="l" x="605" y="486">Future Pull</text><text class="l" x="605" y="494">Vision</text>
<circle class="bs" cx="572" cy="503" r="17.5"/><text class="n" x="572" y="504">41</text>
<text class="l" x="565" y="529">100 ideas</text><text class="l" x="565" y="537">in 10 min</text>
<circle class="bs" cx="599" cy="536" r="17.5"/><text class="n" x="600" y="537">55</text>
<circle class="m" cx="591" cy="526" r="3.8" fill="#39b54a"/><circle class="m" cx="600" cy="522" r="3.8" fill="#ed1c24"/><circle class="m" cx="587" cy="535" r="3.8" fill="#9b1b1e"/>
<circle class="bs" cx="573" cy="567" r="17.5"/>
<text class="l" x="601" y="562">Brainstorm</text><text class="l" x="601" y="570">w. bio-cards</text>
<circle class="pt" cx="603" cy="596" r="17.5"/><text class="nw" x="603" y="596">11</text>
<circle class="m" cx="595" cy="586" r="3.8" fill="#005baa"/><circle class="m" cx="604" cy="582" r="3.8" fill="#2e3192"/><circle class="m" cx="591" cy="595" r="3.8" fill="#00a4e4"/>
<text class="l" x="565" y="598">Prototype</text>
</g>
<g id="d8">
<text class="l" x="678" y="492">Brainstorm</text><text class="l" x="678" y="501">w. bio-cards</text>
<circle class="bs" cx="652" cy="513" r="17.5"/><text class="n" x="652" y="514">36</text>
<circle class="ev" cx="679" cy="545" r="17.5"/><text class="l" x="679" y="541">Evaluate</text><text class="l" x="679" y="549">Ideas</text>
<circle class="bs" cx="652" cy="587" r="17.5"/><text class="n" x="652" y="588">35</text>
<circle class="m" cx="643" cy="576" r="3.8" fill="#8b5e3c"/><circle class="m" cx="653" cy="572" r="3.8" fill="#39b54a"/><circle class="m" cx="638" cy="586" r="3.8" fill="#0072bc"/>
<text class="l" x="683" y="596">Negative</text><text class="l" x="683" y="604">Brainstorm</text>
</g>
<g id="d9">
<circle class="ev" cx="742" cy="535" r="17.5"/><text class="n" x="743" y="536">3</text>
<circle class="o" cx="734" cy="526" r="3.8" fill="#005baa"/><circle class="o" cx="744" cy="522" r="3.8" fill="#8b5e3c"/><circle class="o" cx="730" cy="535" r="3.8" fill="#3b97d3"/>
<text class="l" x="743" y="557">Evaluate</text><text class="l" x="743" y="565">Ideas</text>
</g>
<g id="d10">
<circle class="pt" cx="827" cy="538" r="18.5"/><circle cx="827" cy="538" r="10.5" fill="#fff"/>
<circle class="m" cx="818" cy="529" r="3.8" fill="#2e3192"/><circle class="m" cx="828" cy="524" r="3.8" fill="#39b54a"/><circle class="m" cx="836" cy="529" r="3.8" fill="#a09a22"/><circle class="m" cx="840" cy="539" r="3.8" fill="#92278f"/><circle class="m" cx="836" cy="547" r="3.8" fill="#39b54a"/><circle class="m" cx="827" cy="551" r="3.8" fill="#9e1f63"/><circle class="m" cx="818" cy="548" r="3.8" fill="#005baa"/><circle class="m" cx="814" cy="538" r="3.8" fill="#3b97d3"/>
<text class="l" x="827" y="565">Clustering</text><text class="l" x="827" y="573">Ideas</text>
</g>
<g id="d11">
<circle class="di" cx="882" cy="499" r="12"/>
<circle class="p" cx="874" cy="493" r="3.8" fill="#9e1f63"/><circle class="p" cx="883" cy="489" r="3.8" fill="#2e3192"/>
<text class="l" x="913" y="487">Revise</text><text class="l" x="913" y="495">Problem</text>
<circle class="pt" cx="915" cy="534" r="17.5"/><text class="nw" x="916" y="536">5</text>
<circle class="m" cx="906" cy="524" r="3.8" fill="#005baa"/><circle class="m" cx="915" cy="521" r="3.8" fill="#2e3192"/><circle class="m" cx="924" cy="527" r="3.8" fill="#39b54a"/><circle class="m" cx="902" cy="534" r="3.8" fill="#00a4e4"/>
<text class="l" x="883" y="534">Prototype</text>
<circle class="ev" cx="888" cy="567" r="17.5"/><text class="l" x="888" y="563">Evaluate</text><text class="l" x="888" y="571">Ideas</text>
</g>
<g id="d12">
<circle class="ev" cx="975" cy="513" r="17.5"/>
<circle class="m" cx="964" cy="504" r="3.8" fill="#9e1f63"/><circle class="m" cx="973" cy="499" r="3.8" fill="#005baa"/><circle class="m" cx="983" cy="502" r="3.8" fill="#39b54a"/><circle class="m" cx="963" cy="516" r="3.8" fill="#00a4e4"/>
<text class="l" x="996" y="511">2 Counselling</text><text class="l" x="996" y="519">session</text>
<circle class="pt" cx="1002" cy="546" r="17.5"/><text class="nw" x="1002" y="547">5</text>
<circle class="m" cx="995" cy="536" r="3.8" fill="#005baa"/><circle class="m" cx="1004" cy="532" r="3.8" fill="#2e3192"/><circle class="m" cx="1014" cy="538" r="3.8" fill="#39b54a"/><circle class="m" cx="991" cy="546" r="3.8" fill="#00a4e4"/>
<text class="l" x="964" y="543">Prototype</text>
<circle class="ev" cx="975" cy="578" r="17.5"/><text class="n" x="975" y="579">3</text>
<text class="l" x="975" y="603">Select ideas</text>
</g>
<g id="d13">
<circle class="pt" cx="1057" cy="545" r="17.5"/><text class="nw" x="1058" y="546">3</text>
<circle class="m" cx="1053" cy="533" r="3.8" fill="#39b54a"/><circle class="m" cx="1045" cy="543" r="3.8" fill="#a67cc0"/>
<text class="l" x="1057" y="568">Prototype</text>
</g>
<g id="d14">
<circle class="pt" cx="1141" cy="538" r="17.5"/><text class="nw" x="1142" y="540">1</text>
<circle class="m" cx="1137" cy="527" r="3.8" fill="#39b54a"/><circle class="m" cx="1128" cy="538" r="3.8" fill="#3b97d3"/>
<text class="l" x="1141" y="562">Prototype</text>
</g>
<!-- LEGEND -->
<g id="legend-activities">
<text class="lh" x="70" y="683">Exercises &amp;</text><text class="lh" x="70" y="697">Activities</text>
<circle cx="219" cy="677" r="22.5" fill="#fff" stroke="#000" stroke-width="1"/>
<circle cx="273" cy="677" r="23.5" fill="#939598"/>
<circle cx="326" cy="677" r="22" fill="none" stroke="#000" stroke-width="3"/>
<circle cx="381" cy="677" r="23.5" fill="#000"/>
<text class="lk" x="220" y="719">Brainstorm</text><text class="lk" x="274" y="719">Evaluation</text><text class="lk" x="327" y="719">Discussion</text><text class="lk" x="323" y="728">&amp; other</text><text class="lk" x="383" y="719">Prototyping</text>
</g>
<g id="legend-categories">
<text class="lh" x="503" y="672">Themes</text><text class="lh" x="503" y="686">catagory</text>
<circle cx="654" cy="676" r="12" fill="none" stroke="#6a2c8c" stroke-width="7"/>
<circle cx="700" cy="676" r="12" fill="none" stroke="#ec008c" stroke-width="7"/>
<circle cx="747" cy="676" r="12" fill="none" stroke="#f7941d" stroke-width="7"/>
<text class="lk" x="654" y="707">Problems</text><text class="lk" x="700" y="707">Ideas</text><text class="lk" x="749" y="707">Criteria</text>
</g>
<g id="legend-themes-cd">
<text class="lh" x="70" y="748">List of</text><text class="lh" x="70" y="762">themes</text>
<text class="tt" x="70" y="798">Team C + Team D</text>
<text class="gt" x="209" y="757" fill="#29abe2">Product</text>
<g class="it"><text x="155" y="778">Lifetime</text><text x="155" y="794">Function</text><text x="155" y="810">Materials</text><text x="155" y="825">Surface/friction</text><text x="155" y="841">Form</text><text x="155" y="857">Heating/cooling</text><text x="155" y="872">Wearing</text></g>
<circle cx="216" cy="778" r="6.2" fill="#2e3192"/><circle cx="216" cy="794" r="6.2" fill="#21409a"/><circle cx="216" cy="810" r="6.2" fill="#005baa"/><circle cx="216" cy="826" r="6.2" fill="#0072bc"/><circle cx="216" cy="842" r="6.2" fill="#00a4e4"/><circle cx="216" cy="858" r="6.2" fill="#3b97d3"/><circle cx="216" cy="873" r="6.2" fill="#3fc5f0"/>
<text class="gt" x="307" y="759" fill="#e8505b">Users / Usage</text>
<g class="it"><text x="265" y="778">Users</text><text x="265" y="794">Changing</text></g>
<circle cx="326" cy="779" r="6.2" fill="#ed1c24"/><circle cx="326" cy="795" r="6.2" fill="#ac1f2d"/>
<text class="gt" x="315" y="825" fill="#e6d300">Company</text>
<g class="it"><text x="265" y="845">Brand</text><text x="265" y="861">Company solving</text><text x="265" y="868">own problem</text><text x="265" y="880">Lack of innovation</text></g>
<circle cx="326" cy="847" r="6.2" fill="#fff200"/><circle cx="326" cy="863" r="6.2" fill="#cfc62c"/><circle cx="326" cy="879" r="6.2" fill="#a09a22"/>
<text class="gt" x="436" y="756" fill="#ec4fa8">Sales</text>
<g class="it"><text x="378" y="778">Sales</text><text x="378" y="793">Marketing</text></g>
<circle cx="439" cy="780" r="6.2" fill="#ec008c"/><circle cx="439" cy="796" r="6.2" fill="#b0127f"/>
<text class="gt" x="426" y="824" fill="#6cc24a">Sustainability</text>
<g class="it"><text x="381" y="848">Soil</text><text x="381" y="864">Recycle/waste</text></g>
<circle cx="442" cy="850" r="6.2" fill="#39b54a"/><circle cx="442" cy="866" r="6.2" fill="#006837"/>
<text class="gt" x="543" y="757" fill="#a0785a">Fun</text>
<g class="it"><text x="483" y="780">Fun</text></g>
<circle cx="543" cy="782" r="6.2" fill="#8b5e3c"/>
<text class="gt" x="519" y="824" fill="#999">Additional function</text>
<g class="it"><text x="481" y="847">Additional function</text></g>
<circle cx="546" cy="846" r="6.2" fill="#6d6e71"/>
</g>
<g id="legend-themes-ab">
<text class="tt" x="618" y="799">Team A + Team B</text>
<text class="gt" x="763" y="753" fill="#29abe2">Physical</text><text class="gt" x="763" y="761" fill="#29abe2">Function</text>
<g class="it"><text x="720" y="781">Roof</text><text x="720" y="797">Location</text><text x="720" y="813">Meeting room</text><text x="720" y="828">Walls</text><text x="720" y="844">Boundaries</text><text x="720" y="860">Furniture</text><text x="720" y="875">Flexible</text></g>
<circle cx="770" cy="781" r="6.2" fill="#2e3192"/><circle cx="770" cy="797" r="6.2" fill="#21409a"/><circle cx="770" cy="812" r="6.2" fill="#005baa"/><circle cx="770" cy="827" r="6.2" fill="#0072bc"/><circle cx="770" cy="843" r="6.2" fill="#00a4e4"/><circle cx="770" cy="858" r="6.2" fill="#3b97d3"/><circle cx="770" cy="873" r="6.2" fill="#3fc5f0"/>
<text class="gt" x="861" y="753" fill="#ef5a6f">Emotional</text><text class="gt" x="861" y="761" fill="#ef5a6f">Function</text>
<g class="it"><text x="825" y="783">Art/cool</text><text x="825" y="799">Comfort</text><text x="825" y="815">Social</text><text x="825" y="831">Connectivity</text><text x="825" y="846">Home</text><text x="825" y="862">Ownership</text><text x="825" y="877">Play</text><text x="825" y="892">Unique</text><text x="825" y="906">Identity</text></g>
<circle cx="873" cy="783" r="6.2" fill="#ed1c24"/><circle cx="873" cy="798" r="6.2" fill="#d91f26"/><circle cx="873" cy="814" r="6.2" fill="#c1272d"/><circle cx="873" cy="830" r="6.2" fill="#9b1b1e"/><circle cx="873" cy="845" r="6.2" fill="#7f1512"/><circle cx="873" cy="860" r="6.2" fill="#6a0f0b"/><circle cx="873" cy="875" r="6.2" fill="#5c0a08"/><circle cx="873" cy="890" r="6.2" fill="#4a0605"/><circle cx="873" cy="905" r="6.2" fill="#3a0303"/>
<text class="gt" x="948" y="757" fill="#b88a6a">Climate</text>
<g class="it"><text x="919" y="784">Temperature</text><text x="919" y="799">Light</text><text x="919" y="816">Noise</text><text x="919" y="831">Sound</text><text x="919" y="848">smell</text><text x="919" y="864">Isolation</text></g>
<circle cx="967" cy="783" r="6.2" fill="#c49a6c"/><circle cx="967" cy="799" r="6.2" fill="#a87c4f"/><circle cx="967" cy="815" r="6.2" fill="#8b5e3c"/><circle cx="967" cy="830" r="6.2" fill="#754c24"/><circle cx="967" cy="846" r="6.2" fill="#603913"/><circle cx="967" cy="861" r="6.2" fill="#3c2415"/>
<text class="gt" x="1071" y="759" fill="#efe34a">Brand</text>
<g class="it"><text x="1014" y="783">Company's</text><text x="1014" y="790">expectations</text><text x="1031" y="800">Values</text><text x="1030" y="813">Partners</text></g>
<circle cx="1079" cy="783" r="6.2" fill="#f4ea2f"/><circle cx="1079" cy="797" r="6.2" fill="#cfc62c"/><circle cx="1079" cy="813" r="6.2" fill="#a09a22"/>
<text class="gt" x="1060" y="836" fill="#9e72b6">Users / Usage</text>
<g class="it"><text x="1030" y="859">Users</text><text x="1030" y="875">Usage</text></g>
<circle cx="1079" cy="856" r="6.2" fill="#92278f"/><circle cx="1079" cy="872" r="6.2" fill="#662d91"/>
<text class="gt" x="1139" y="759" fill="#ec4f9d">Budget</text>
<g class="it"><text x="1127" y="783">Budget</text><text x="1127" y="844">Sustainability</text><text x="1127" y="860">Nature</text></g>
<circle cx="1174" cy="783" r="6.2" fill="#ec008c"/>
<text class="gt" x="1147" y="820" fill="#6cc24a">Sustainability</text>
<circle cx="1174" cy="843" r="6.2" fill="#39b54a"/><circle cx="1174" cy="858" r="6.2" fill="#006837"/>
</g>
</svg>
